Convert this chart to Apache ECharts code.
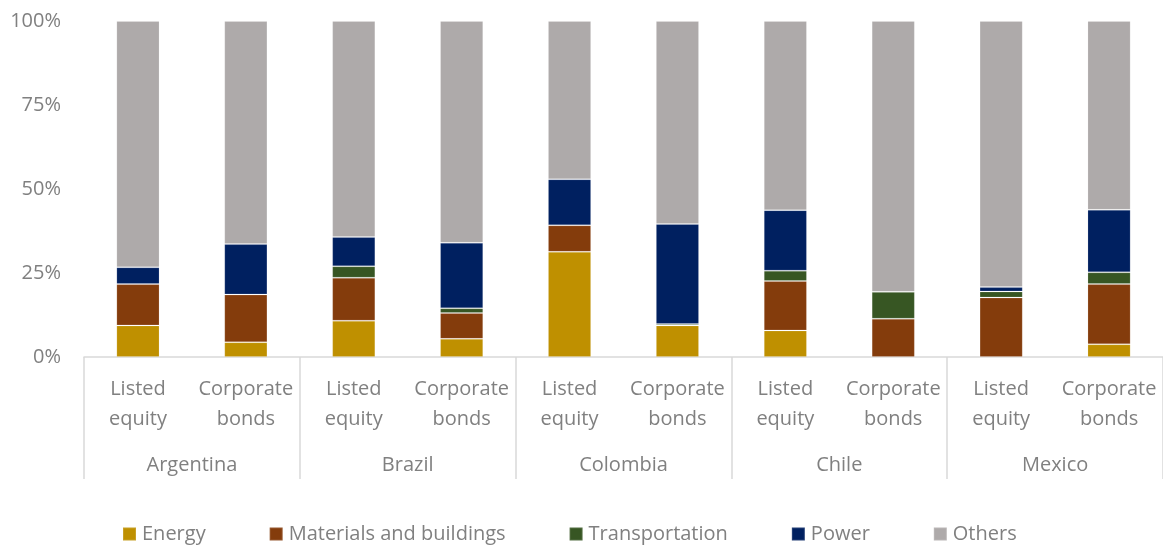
<!DOCTYPE html>
<html>
<head>
<meta charset="utf-8">
<script src="https://cdn.jsdelivr.net/npm/echarts@6/dist/echarts.min.js"></script>
<style>
  html, body { margin: 0; padding: 0; background: #fff; }
  #chart { width: 1163px; height: 547px; }
</style>
</head>
<body>
<div id="chart"></div>
<script>
// categories (two levels)
const instruments = ['Listed\nequity', 'Corporate\nbonds'];
const countries = ['Argentina', 'Brazil', 'Colombia', 'Chile', 'Mexico'];
const bars = countries.flatMap(() => instruments);

// shares in %, order: Arg LE, Arg CB, Bra LE, Bra CB, Col LE, Col CB, Chi LE, Chi CB, Mex LE, Mex CB
const energy         = [9.4, 4.4, 10.8, 5.4, 31.3, 9.4, 7.9, 0, 0, 3.8];
const materials      = [12.3, 14.2, 12.8, 7.7, 7.9, 0, 14.7, 11.4, 17.7, 17.9];
const transportation = [0, 0, 3.4, 1.4, 0, 0.4, 3.1, 8.0, 1.8, 3.5];
const power          = [5.0, 15.0, 8.7, 19.5, 13.7, 29.8, 18.0, 0, 1.3, 18.6];
const others         = [73.3, 66.4, 64.3, 66.0, 47.1, 60.4, 56.3, 80.6, 79.2, 56.2];

const yTicks = [0, 25, 50, 75, 100];

const textColor = '#808080';
const font = '"Open Sans", sans-serif';

const chart = echarts.init(document.getElementById('chart'));

const mk = (name, data, color) => ({
  name: name,
  type: 'bar',
  stack: 'total',
  xAxisIndex: 0,
  barWidth: '40%',
  data: data,
  itemStyle: { color: color, borderColor: 'rgba(255,255,255,0.15)', borderWidth: 1 }
});

chart.setOption({
  animation: false,
  textStyle: { fontFamily: font },
  grid: { left: 84, right: 0, top: 21, bottom: 190 },
  legend: {
    left: 117,
    top: 519,
    icon: 'rect',
    itemWidth: 13,
    itemHeight: 13,
    itemGap: 63,
    textStyle: { fontSize: 20, color: textColor, fontFamily: font, padding: [0, 0, 0, 1] },
    data: ['Energy', 'Materials and buildings', 'Transportation', 'Power', 'Others']
  },
  xAxis: [
    {
      type: 'category',
      position: 'bottom',
      data: bars,
      axisLine: { lineStyle: { color: '#d9d9d9', width: 1.5 } },
      axisTick: { show: false },
      axisLabel: {
        interval: 0,
        margin: 17,
        fontSize: 20,
        lineHeight: 30,
        color: textColor,
        fontFamily: font
      }
    },
    {
      type: 'category',
      position: 'bottom',
      data: countries,
      axisLine: { show: false },
      axisTick: { show: true, length: 122, lineStyle: { color: '#d9d9d9', width: 1.5 } },
      axisLabel: {
        interval: 0,
        margin: 98,
        fontSize: 20,
        color: textColor,
        fontFamily: font
      }
    }
  ],
  yAxis: {
    type: 'value',
    min: yTicks[0],
    max: yTicks[yTicks.length - 1],
    interval: 25,
    axisLine: { show: false },
    axisTick: { show: false },
    splitLine: { show: false },
    axisLabel: {
      margin: 23,
      fontSize: 20,
      color: textColor,
      fontFamily: font,
      formatter: '{value}%'
    }
  },
  series: [
    mk('Energy', energy, '#BF9000'),
    mk('Materials and buildings', materials, '#843C0C'),
    mk('Transportation', transportation, '#375623'),
    mk('Power', power, '#002060'),
    mk('Others', others, '#AEAAAA')
  ]
});
</script>
</body>
</html>
